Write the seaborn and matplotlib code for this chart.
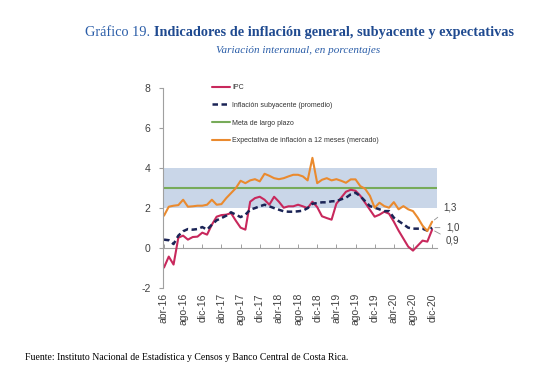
import numpy as np
import pandas as pd
import seaborn as sns
import matplotlib.pyplot as plt

# Monthly series, abr-16 ... dic-20 (57 months)
ipc = [-1.0, -0.45, -0.85, 0.5, 0.6, 0.4, 0.53, 0.55, 0.75, 0.65,
       1.15, 1.55, 1.63, 1.65, 1.73, 1.35, 1.0, 0.9, 2.3, 2.48,
       2.55, 2.4, 2.15, 2.55, 2.3, 2.0, 2.07, 2.07, 2.15, 2.07,
       1.98, 2.3, 2.03, 1.57, 1.48, 1.4, 2.2, 2.5, 2.8, 2.9,
       2.85, 2.6, 2.25, 1.9, 1.55, 1.65, 1.8, 1.7, 1.3, 0.85,
       0.45, 0.05, -0.15, 0.1, 0.35, 0.3, 0.9]
subyacente = [0.4, 0.37, 0.18, 0.6, 0.82, 0.93, 0.9, 0.93, 1.03, 0.9,
              1.15, 1.37, 1.48, 1.6, 1.77, 1.65, 1.53, 1.65, 1.9, 1.98,
              2.07, 2.15, 2.07, 1.98, 1.9, 1.82, 1.8, 1.8, 1.82, 1.85,
              1.98, 2.2, 2.23, 2.27, 2.27, 2.32, 2.33, 2.42, 2.5, 2.67,
              2.75, 2.58, 2.33, 2.08, 2.0, 1.92, 1.83, 1.83, 1.5, 1.33,
              1.17, 1.0, 0.95, 0.95, 0.95, 0.85, 1.0]
expectativa = [1.6, 2.05, 2.1, 2.13, 2.4, 2.05, 2.07, 2.1, 2.1, 2.15,
               2.4, 2.15, 2.18, 2.48, 2.73, 2.98, 3.35, 3.23, 3.37, 3.43,
               3.32, 3.7, 3.6, 3.48, 3.43, 3.48, 3.57, 3.65, 3.65, 3.57,
               3.37, 4.5, 3.23, 3.4, 3.48, 3.37, 3.43, 3.35, 3.25, 3.42,
               3.42, 3.08, 2.95, 2.6, 2.0, 2.25, 2.08, 2.0, 2.28, 1.92,
               2.08, 1.92, 1.83, 1.5, 1.1, 0.83, 1.3]
meta = 3.0
rango_meta = (2.0, 4.0)
tick_labels = ["abr-16", "ago-16", "dic-16", "abr-17", "ago-17", "dic-17",
               "abr-18", "ago-18", "dic-18", "abr-19", "ago-19", "dic-19",
               "abr-20", "ago-20", "dic-20"]
etiquetas_final = ["1,3", "1,0", "0,9"]

df = pd.DataFrame({"mes": np.arange(len(ipc)), "IPC": ipc,
                   "Subyacente": subyacente, "Expectativa": expectativa})

sns.set_style("white")
plt.rcParams["font.family"] = ["Liberation Sans", "DejaVu Sans"]
plt.rcParams["axes.unicode_minus"] = False

fig = plt.figure(figsize=(5.5, 3.79), dpi=100)
ax = fig.add_axes([0.2964, 0.2414, 0.498, 0.5264])

c_ipc = "#c8285c"
c_sub = "#1b2456"
c_meta = "#77ab59"
c_exp = "#ea8a2e"

ax.axhspan(*rango_meta, color="#c9d6e8", lw=0, zorder=0)
sns.lineplot(data=df, x="mes", y="IPC", ax=ax, color=c_ipc, lw=1.5, label="IPC")
sns.lineplot(data=df, x="mes", y="Subyacente", ax=ax, color=c_sub, lw=1.8,
             linestyle=(0, (2.2, 1.4)), label="Inflación subyacente (promedio)")
ax.axhline(meta, color=c_meta, lw=1.5, label="Meta de largo plazo", zorder=1)
sns.lineplot(data=df, x="mes", y="Expectativa", ax=ax, color=c_exp, lw=1.5,
             label="Expectativa de inflación a 12 meses (mercado)")

ax.set_xlim(-0.2, 57)
ax.set_ylim(-2, 8)
ax.set_yticks(range(-2, 9, 2))
ax.set_xlabel("")
ax.set_ylabel("")

ticks = np.arange(0, len(ipc), 4)
ax.set_xticks(ticks)
ax.set_xticklabels(tick_labels, rotation=90, fontsize=7.5, color="#404040")
ax.tick_params(axis="x", length=0, pad=4)
ax.tick_params(axis="y", length=3, direction="out", color="#a0a0a0",
               labelsize=7.5, labelcolor="#404040", pad=6, left=True)
for s in ["top", "right", "bottom"]:
    ax.spines[s].set_visible(False)
ax.spines["left"].set_color("#a0a0a0")
ax.spines["left"].set_linewidth(0.8)

# zero line with month ticks
sec = ax.secondary_xaxis(0.2)
sec.set_xticks(ticks)
sec.set_xticklabels([])
sec.tick_params(length=3, direction="in", color="#a0a0a0", width=0.7)
sec.spines["bottom"].set_color("#a0a0a0")
sec.spines["bottom"].set_linewidth(0.8)

leg = ax.legend(loc="upper left", bbox_to_anchor=(0.18, 1.02), frameon=False,
                fontsize=5, handlelength=2.6, handletextpad=0.25,
                labelspacing=1.55, borderpad=0, borderaxespad=0)
for t in leg.get_texts():
    t.set_color("#333333")

last = len(ipc) - 1
ann = dict(textcoords="offset points", fontsize=7, color="#404040",
           annotation_clip=False, va="center",
           arrowprops=dict(arrowstyle="-", color="#909090", lw=0.6))
ax.annotate(etiquetas_final[0], xy=(last, expectativa[-1]), xytext=(8, 10), **ann)
ax.annotate(etiquetas_final[1], xy=(last, subyacente[-1]), xytext=(10, 0), **ann)
ax.annotate(etiquetas_final[2], xy=(last, ipc[-1]), xytext=(10, -8), **ann)

serif = "Liberation Serif"
t1 = fig.text(0.155, 0.905, "Gráfico 19. ", family=serif, fontsize=10.3,
              color="#2a5da8", va="baseline")
fig.canvas.draw()
ax.annotate("Indicadores de inflación general, subyacente y expectativas",
            xy=(1, 0), xycoords=t1, va="bottom", ha="left", family=serif,
            fontsize=10.3, fontweight="bold", color="#1f4a90")
fig.text(0.542, 0.866, "Variación interanual, en porcentajes", family=serif,
         fontsize=8, style="italic", color="#2a5da8", ha="center", va="center")
fig.text(0.045, 0.058, "Fuente: Instituto Nacional de Estadística y Censos y Banco Central de Costa Rica.",
         family=serif, fontsize=7.0, color="black", va="center")

fig.savefig("out.png", dpi=100)
